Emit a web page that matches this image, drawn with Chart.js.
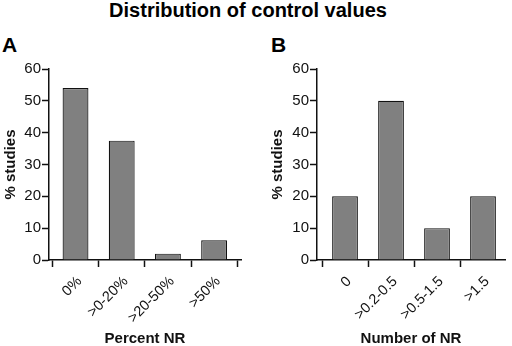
<!DOCTYPE html>
<html>
<head>
<meta charset="utf-8">
<script src="https://cdn.jsdelivr.net/npm/chart.js@4"></script>
<style>
  html, body { margin: 0; padding: 0; background: #fff; }
  body { width: 512px; height: 346px; position: relative; overflow: hidden; font-family: "Liberation Sans", Arial, sans-serif; }
  .title { position: absolute; left: 0; top: 0; width: 496px; text-align: center; font-weight: bold; font-size: 20px; line-height: 20px; color: #000; }
  .panel { position: absolute; top: 34px; font-weight: bold; font-size: 21px; line-height: 21px; color: #000; }
  canvas { position: absolute; }
</style>
</head>
<body>
<div class="title">Distribution of control values</div>
<div class="panel" style="left:2px">A</div>
<div class="panel" style="left:271px">B</div>
<canvas id="chartA" width="256" height="306" style="left:0;top:40px"></canvas>
<canvas id="chartB" width="256" height="306" style="left:256px;top:40px"></canvas>
<script>
const percentLabels = ['0%', '>0-20%', '>20-50%', '>50%'];
const percentValues = [54, 37.5, 2, 6.2];
const numberLabels = ['0', '>0.2-0.5', '>0.5-1.5', '>1.5'];
const numberValues = [20, 50, 10, 20];
const yTicks = [0, 10, 20, 30, 40, 50, 60];

const yTickFont = { family: 'Liberation Sans, Arial, sans-serif', size: 15 };
const xTickFont = { family: 'Liberation Sans, Arial, sans-serif', size: 14.5 };
const titleFont = { family: 'Liberation Sans, Arial, sans-serif', size: 15, weight: 'bold', lineHeight: 1 };

function renderPanel(canvasId, labels, values, xTitle, opts) {
    const ctx = document.getElementById(canvasId).getContext('2d');

    new Chart(ctx, {
        type: 'bar',
        data: {
            labels: labels,
            datasets: [{
                label: '% studies',
                data: values,
                backgroundColor: '#808080',
                borderColor: '#111',
                borderWidth: 1.2,
                borderSkipped: 'bottom',
                barPercentage: 0.56,
                categoryPercentage: 1
            }]
        },
        options: {
            responsive: false,
            animation: false,
            layout: {
                padding: { top: 29, right: opts.padRight, left: 0, bottom: 0 }
            },
            plugins: {
                legend: { display: false },
                tooltip: { enabled: false }
            },
            scales: {
                x: {
                    offset: true,
                    afterFit: function(scale) { scale.height = 86; },
                    afterBuildTicks: function(scale) {
                        // spread categories the way the original axis does
                        scale._startValue = opts.start;
                        scale._valueRange = opts.range;
                    },
                    grid: { display: true, drawOnChartArea: false, drawTicks: true, tickLength: 7, tickColor: '#111', tickWidth: 1.5 },
                    border: { display: true, color: '#111', width: 1.5 },
                    ticks: { color: '#111', font: xTickFont, minRotation: 45, maxRotation: 45, padding: 6, labelOffset: 4, autoSkip: false },
                    title: {
                        display: true,
                        text: xTitle,
                        color: '#111',
                        font: titleFont,
                        padding: { top: 0, bottom: 0 }
                    }
                },
                y: {
                    min: 0,
                    max: 60,
                    afterFit: function(scale) { scale.width = opts.yWidth; },
                    afterBuildTicks: function(scale) {
                        scale.ticks = yTicks.map(v => ({ value: v }));
                    },
                    grid: { display: true, drawOnChartArea: false, drawTicks: true, tickLength: 7, tickColor: '#111', tickWidth: 1.5 },
                    border: { display: true, color: '#111', width: 1.5 },
                    ticks: { color: '#111', font: yTickFont, padding: 1 },
                    title: {
                        display: true,
                        text: '% studies',
                        color: '#111',
                        font: titleFont,
                        padding: { top: opts.yTitlePad, bottom: 0 }
                    }
                }
            }
        }
    });
}

renderPanel('chartA', percentLabels, percentValues, 'Percent NR',
    { padRight: 15, yWidth: 49, yTitlePad: 3, start: -0.574, range: 4.156 });
renderPanel('chartB', numberLabels, numberValues, 'Number of NR',
    { padRight: 7, yWidth: 61, yTitlePad: 14, start: -0.609, range: 4.087 });
</script>
</body>
</html>
